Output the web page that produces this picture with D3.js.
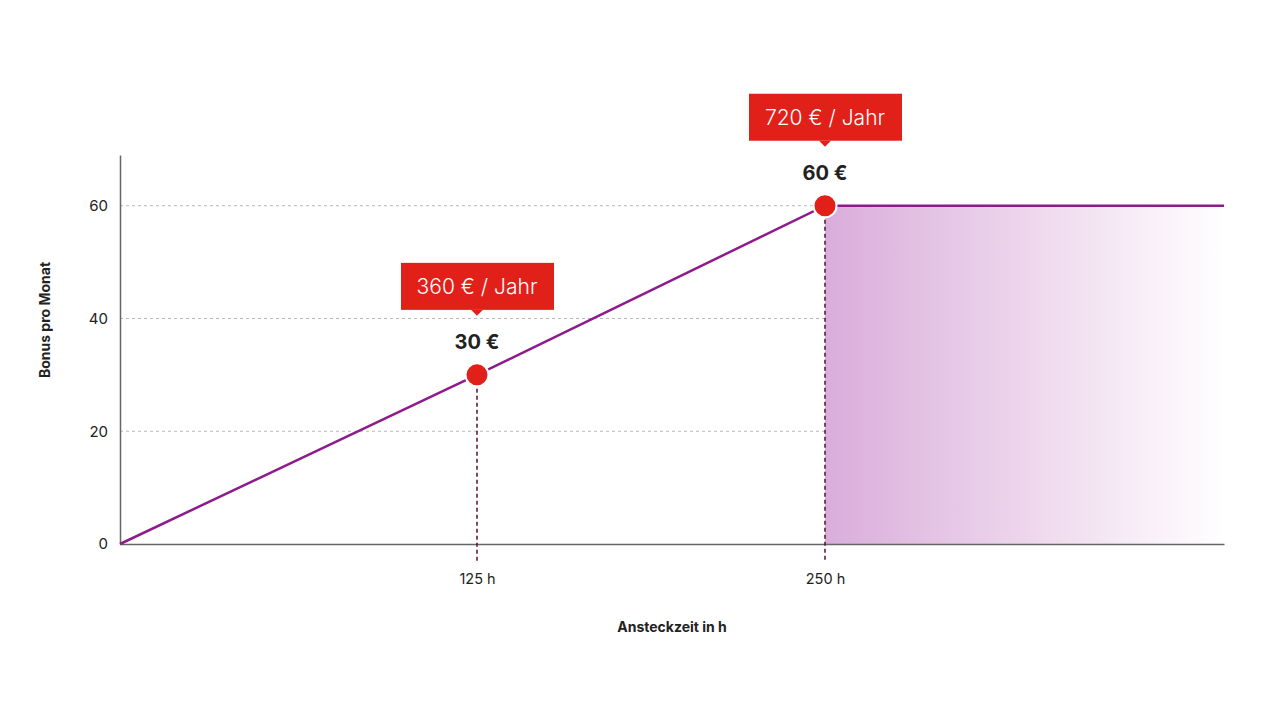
<!DOCTYPE html>
<html>
<head>
<meta charset="utf-8">
<script src="https://cdn.jsdelivr.net/npm/d3@7"></script>
<style>
  html, body { margin: 0; padding: 0; background: #fff; }
  svg { display: block; font-family: "Inter", "Roboto", sans-serif; }
</style>
</head>
<body>
<svg id="chart" width="1280" height="720"></svg>
<script>
// Bonus per month depending on plug-in time
const hours = [0, 125, 250, 392];
const bonus = [0, 30, 60, 60];
const milestones = [125, 250];
const milestoneBonus = [30, 60];
const milestoneLabels = ["30 €", "60 €"];
const yearLabels = ["360 € / Jahr", "720 € / Jahr"];
const yTicks = [0, 20, 40, 60];
const xTickLabels = ["125 h", "250 h"];

const svg = d3.select("#chart");
const plotLeft = 120, plotRight = 1224, plotTop = 155, plotBottom = 544;

// piecewise horizontal scale: the two milestones sit at fixed columns
const x = d3.scaleLinear().domain([0, 125, 250, 392]).range([plotLeft, 477, 825, plotRight]);
const y = d3.scaleLinear().domain([0, 69]).range([plotBottom, plotTop]);

const purple = "#8e1a8c";
const red = "#e2201a";

// gradient for the capped area
const defs = svg.append("defs");
const grad = defs.append("linearGradient").attr("id", "capFill")
  .attr("x1", "0%").attr("x2", "100%").attr("y1", "0%").attr("y2", "0%");
grad.append("stop").attr("offset", "0%").attr("stop-color", "#d9addb");
grad.append("stop").attr("offset", "55%").attr("stop-color", "#efdaee");
grad.append("stop").attr("offset", "100%").attr("stop-color", "#ffffff");

// grid lines
svg.append("g").selectAll("line").data(yTicks.filter(d => d > 0)).join("line")
  .attr("x1", plotLeft).attr("x2", plotRight)
  .attr("y1", d => y(d)).attr("y2", d => y(d))
  .attr("stroke", "#b8b8b8").attr("stroke-width", 1)
  .attr("stroke-dasharray", "3,3");

// capped area after 250 h
svg.append("rect")
  .attr("x", x(250)).attr("y", y(60))
  .attr("width", x(392) - x(250)).attr("height", y(0) - y(60))
  .attr("fill", "url(#capFill)");

// axes
const yAxis = d3.axisLeft(y).tickValues(yTicks).tickSize(0).tickPadding(12);
const gy = svg.append("g").attr("transform", `translate(${plotLeft},0)`).call(yAxis);
gy.select(".domain").attr("stroke", "#666").attr("stroke-width", 1.5);
gy.selectAll("text").attr("font-size", 15).attr("fill", "#222")
  .attr("font-family", "Inter, Roboto, sans-serif");

const xAxis = d3.axisBottom(x).tickValues(milestones)
  .tickFormat((d, i) => xTickLabels[i]).tickSize(0).tickPadding(30);
const gx = svg.append("g").attr("transform", `translate(0,${plotBottom})`).call(xAxis);
gx.select(".domain").attr("stroke", "#666").attr("stroke-width", 1.5);
gx.selectAll("text").attr("font-size", 14.5).attr("fill", "#222")
  .attr("font-family", "Inter, Roboto, sans-serif");

// dashed drop lines
svg.append("g").selectAll("line").data(milestones).join("line")
  .attr("x1", d => x(d)).attr("x2", d => x(d))
  .attr("y1", (d, i) => y(milestoneBonus[i]))
  .attr("y2", plotBottom + 18)
  .attr("stroke", "#5a0f1e").attr("stroke-width", 1.5)
  .attr("stroke-dasharray", "4,3");

// bonus line
const line = d3.line().x((d, i) => x(hours[i])).y(d => y(d));
svg.append("path").datum(bonus)
  .attr("d", line)
  .attr("fill", "none").attr("stroke", purple).attr("stroke-width", 2.5);

// milestone points
svg.append("g").selectAll("circle").data(milestones).join("circle")
  .attr("cx", d => x(d)).attr("cy", (d, i) => y(milestoneBonus[i]))
  .attr("r", 11.5)
  .attr("fill", red).attr("stroke", "#fff").attr("stroke-width", 2);

// value labels
svg.append("g").selectAll("text").data(milestones).join("text")
  .attr("x", d => x(d)).attr("y", (d, i) => y(milestoneBonus[i]) - 26)
  .attr("text-anchor", "middle")
  .attr("font-size", 20).attr("font-weight", 700).attr("fill", "#222")
  .text((d, i) => milestoneLabels[i]);

// yearly callouts
const callouts = svg.append("g").selectAll("g").data(milestones).join("g")
  .attr("transform", (d, i) => `translate(${x(d)},${y(milestoneBonus[i]) - 65})`);
callouts.append("rect")
  .attr("x", -76).attr("y", -47).attr("width", 153).attr("height", 47)
  .attr("fill", red);
callouts.append("path")
  .attr("d", "M-6,0 L0,6 L6,0 Z").attr("fill", red);
callouts.append("text")
  .attr("x", 0).attr("y", -16)
  .attr("text-anchor", "middle")
  .attr("font-size", 21).attr("font-weight", 300).attr("fill", "#fff")
  .text((d, i) => yearLabels[i]);

// axis titles
svg.append("text")
  .attr("x", (plotLeft + plotRight) / 2).attr("y", 632)
  .attr("text-anchor", "middle")
  .attr("font-size", 14).attr("font-weight", 700).attr("fill", "#222")
  .text("Ansteckzeit in h");

svg.append("text")
  .attr("transform", "translate(50,320) rotate(-90)")
  .attr("text-anchor", "middle")
  .attr("font-size", 14).attr("font-weight", 700).attr("fill", "#222")
  .text("Bonus pro Monat");
</script>
</body>
</html>
